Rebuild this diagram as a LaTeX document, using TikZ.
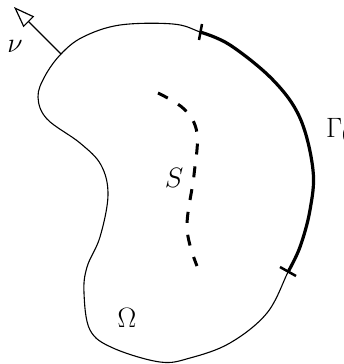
\RequirePackage{fix-cm}
\documentclass[tikz,border=0pt]{standalone}
\usetikzlibrary{arrows.meta}
\begin{document}
\begin{tikzpicture}[
  x=1pt, y=-1pt,
  font=\fontsize{28}{34}\selectfont,
  rim/.style={line width=1.1pt},
  gammaline/.style={line width=3.2pt},
  crack/.style={line width=3pt, dash pattern=on 11pt off 12pt},
  tickmark/.style={line width=2.5pt},
  normalarrow/.style={line width=1.2pt, -{Triangle[open, length=21pt, width=15pt, line width=1.2pt]}},
  lbl/.style={inner sep=0pt}
]
\useasboundingbox (0,0) rectangle (344,364);

% Domain boundary
\draw[rim] plot[smooth cycle, tension=0.6] coordinates {
  (61,54) (83,37) (120,25) (173,24) (200,32) (230,45) (273,80) (300,118)
  (313,170) (310,210) (300,247) (288,272) (267,313) (230,343) (190,358)
  (160,362) (113,348) (90,330) (84,293) (87,267) (100,237) (108,195)
  (101,165) (80,143) (47,119) (38,97) (45,76)};

% Boundary part Gamma_0
\draw[gammaline] plot[smooth, tension=0.6] coordinates {
  (200,32) (230,45) (273,80) (300,118) (313,170) (310,210) (300,247) (288,272)};

% End marks
\coordinate (t1a) at (202,24);
\coordinate (t1b) at (199,40);
\coordinate (t2a) at (280,267);
\coordinate (t2b) at (296,276);
\draw[tickmark] (t1a) -- (t1b);
\draw[tickmark] (t2a) -- (t2b);

% Crack S
\draw[crack] plot[smooth, tension=0.6] coordinates {
  (158,93) (184,109) (197,133) (194,175) (187,228) (197,266)};

% Outer normal
\coordinate (nubase) at (61,54);
\coordinate (nutip) at (14,7);
\draw[normalarrow] (nubase) -- (nutip);

% Labels
\node[lbl] (nu) at (15,46) {$\nu$};
\node[lbl] (S) at (174,178) {$S$};
\node[lbl] (Omega) at (127,318) {$\Omega$};
\node[lbl, anchor=base west] (Gamma) at (326,137) {$\Gamma_0$};

\end{tikzpicture}
\end{document}
